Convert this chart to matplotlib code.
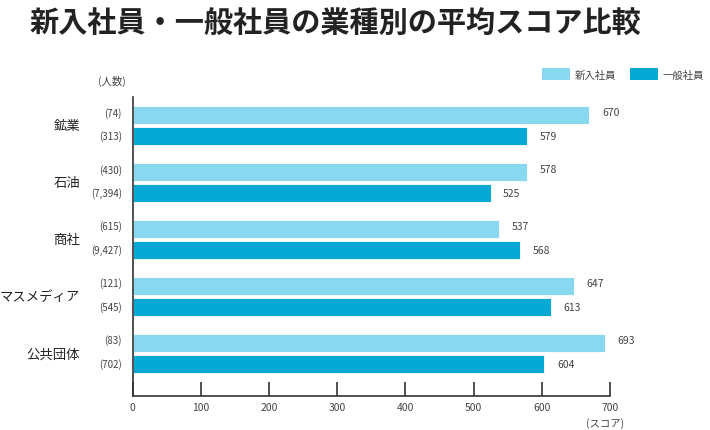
import matplotlib
matplotlib.use("Agg")
import matplotlib.pyplot as plt
from matplotlib.patches import Patch
import numpy as np

plt.rcParams['font.family'] = ['Noto Sans CJK JP', 'DejaVu Sans']

# データ
industries = ["鉱業", "石油", "商社", "マスメディア", "公共団体"]
new_scores = [670, 578, 537, 647, 693]
gen_scores = [579, 525, 568, 613, 604]
new_counts = ["(74)", "(430)", "(615)", "(121)", "(83)"]
gen_counts = ["(313)", "(7,394)", "(9,427)", "(545)", "(702)"]
xticks = [0, 100, 200, 300, 400, 500, 600, 700]

c_new = "#88d8f0"
c_gen = "#06a8d4"
c_txt = "#444444"

fig = plt.figure(figsize=(7.1, 4.31), dpi=100)
ax = fig.add_axes([0.187, 0.079, 0.672, 0.694])

y = np.arange(len(industries))
off = 0.184
h = 0.316
ax.barh(y - off, new_scores, height=h, color=c_new, edgecolor="white", linewidth=0.6)
ax.barh(y + off, gen_scores, height=h, color=c_gen, edgecolor="white", linewidth=0.6)

for i in range(len(industries)):
    ax.annotate(str(new_scores[i]), (new_scores[i], y[i] - off), xytext=(9, 2),
                textcoords="offset points", va="center", ha="left", fontsize=7.5, color=c_txt)
    ax.annotate(str(gen_scores[i]), (gen_scores[i], y[i] + off), xytext=(9, 0),
                textcoords="offset points", va="center", ha="left", fontsize=7.5, color=c_txt)
    ax.annotate(new_counts[i], (0, y[i] - off), xycoords=("axes fraction", "data"),
                xytext=(-8, 2), textcoords="offset points", va="center", ha="right",
                fontsize=7, color=c_txt)
    ax.annotate(gen_counts[i], (0, y[i] + off), xycoords=("axes fraction", "data"),
                xytext=(-8, 0), textcoords="offset points", va="center", ha="right",
                fontsize=7, color=c_txt)
    ax.annotate(industries[i], (0, y[i]), xycoords=("axes fraction", "data"),
                xytext=(-38, 0), textcoords="offset points", va="center", ha="right",
                fontsize=9.6, color="#222222")

ax.set_xlim(0, 700)
ax.set_ylim(4.75, -0.5)
ax.set_yticks([])
ax.set_xticks(xticks)
ax.set_xticklabels([str(t) for t in xticks], fontsize=7.5, color=c_txt)
ax.tick_params(axis="x", direction="in", length=10, width=1.2, color="#333333", pad=4)
for s in ["top", "right"]:
    ax.spines[s].set_visible(False)
for s in ["left", "bottom"]:
    ax.spines[s].set_color("#333333")
    ax.spines[s].set_linewidth(1.2)

fig.text(0.158, 0.812, "(人数)", fontsize=7.5, color=c_txt, ha="center", va="center")
fig.text(0.852, 0.018, "(スコア)", fontsize=7.5, color=c_txt, ha="center", va="center")
fig.text(0.042, 0.945, "新入社員・一般社員の業種別の平均スコア比較", fontsize=21,
         fontweight="bold", color="#222222", ha="left", va="center")

handles = [Patch(facecolor=c_new, label="新入社員"), Patch(facecolor=c_gen, label="一般社員")]
fig.legend(handles=handles, loc="center right", bbox_to_anchor=(1.005, 0.826), ncol=2,
           frameon=False, fontsize=7.5, handlelength=2.7, handleheight=1.3,
           columnspacing=1.3, handletextpad=0.45, labelcolor=c_txt)

fig.savefig("out.png", dpi=100)
